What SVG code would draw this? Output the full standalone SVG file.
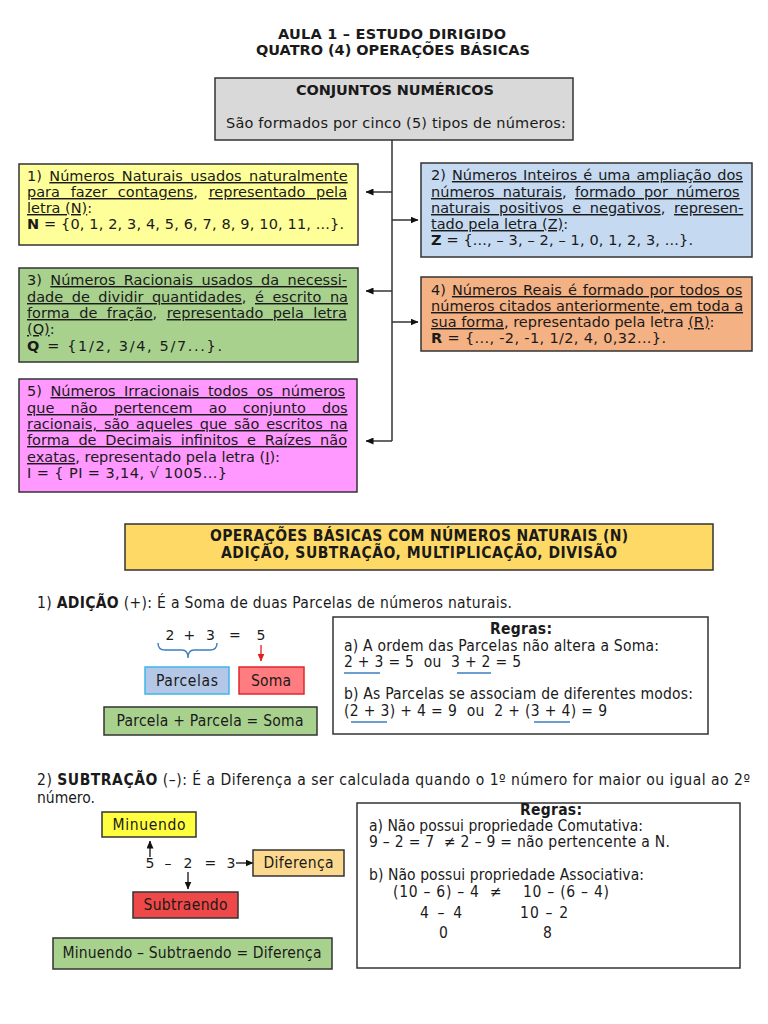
<svg xmlns="http://www.w3.org/2000/svg" width="768" height="1024" viewBox="0 0 768 1024">
<style>
.v{font-family:"DejaVu Sans",Verdana,sans-serif;font-size:14.5px;fill:#1a1a1a}
.t{font-family:"DejaVu Sans Condensed","Liberation Sans",sans-serif;font-size:15.5px;fill:#1a1a1a}
.b{font-weight:bold}
.u{text-decoration:underline}
.box{stroke:#333;stroke-width:1.5}
.c{text-anchor:middle}
.ln{stroke:#333;stroke-width:1.5;fill:none}
.lnk{stroke:#111;stroke-width:1.3;fill:none}
.bl{stroke:#3e7cc0;stroke-width:1.3}
</style>
<defs>
<marker id="ah" markerWidth="8" markerHeight="7" refX="7.5" refY="3.5" orient="auto" markerUnits="userSpaceOnUse">
<path d="M0,0 L8,3.5 L0,7 z" fill="#111"/>
</marker>
<marker id="ahr" markerWidth="8" markerHeight="7" refX="7.5" refY="3.5" orient="auto" markerUnits="userSpaceOnUse">
<path d="M0,0 L8,3.5 L0,7 z" fill="#e02020"/>
</marker>
</defs>
<rect width="768" height="1024" fill="#fff"/>

<g id="title">
<text class="v b c" x="392" y="39" textLength="228">AULA 1 – ESTUDO DIRIGIDO</text>
<text class="v b c" x="393" y="55" textLength="274">QUATRO (4) OPERAÇÕES BÁSICAS</text>
</g>

<g id="connectors">
<line class="ln" x1="392" y1="140" x2="392" y2="441"/>
<line class="ln" x1="392" y1="192" x2="366" y2="192" marker-end="url(#ah)"/>
<line class="ln" x1="392" y1="220" x2="418" y2="220" marker-end="url(#ah)"/>
<line class="ln" x1="392" y1="291" x2="366" y2="291" marker-end="url(#ah)"/>
<line class="ln" x1="392" y1="322" x2="418" y2="322" marker-end="url(#ah)"/>
<line class="ln" x1="392" y1="441" x2="366" y2="441" marker-end="url(#ah)"/>
<line x1="261" y1="645" x2="261" y2="661" stroke="#e02020" stroke-width="1.3" marker-end="url(#ahr)"/>
<line class="lnk" x1="150" y1="857" x2="150" y2="841" marker-end="url(#ah)"/>
<line class="lnk" x1="236" y1="863" x2="253" y2="863" marker-end="url(#ah)"/>
<line class="lnk" x1="188" y1="872" x2="188" y2="889" marker-end="url(#ah)"/>
</g>

<g id="conjuntos">
<rect class="box" x="215" y="78" width="358" height="62" fill="#d9d9d9"/>
<text class="v b c" x="395" y="95" textLength="198">CONJUNTOS NUMÉRICOS</text>
<text class="v" x="226" y="128" textLength="340">São formados por cinco (5) tipos de números:</text>
</g>

<g id="naturais">
<rect class="box" x="19" y="164" width="339" height="81" fill="#ffff99"/>
<text class="v" x="27" y="181" style="word-spacing:2.8px">1) <tspan class="u">Números Naturais usados naturalmente</tspan></text>
<text class="v" x="27" y="197" style="word-spacing:6.1px"><tspan class="u">para fazer contagens</tspan>, <tspan class="u">representado pela</tspan></text>
<text class="v" x="27" y="213"><tspan class="u">letra (N)</tspan>:</text>
<text class="v" x="27" y="229" textLength="317"><tspan class="b">N</tspan> = {0, 1, 2, 3, 4, 5, 6, 7, 8, 9, 10, 11, ...}.</text>
</g>

<g id="inteiros">
<rect class="box" x="421" y="163" width="331" height="94" fill="#c5d9f1"/>
<text class="v" x="431" y="180" style="word-spacing:1.4px">2) <tspan class="u">Números Inteiros é uma ampliação dos</tspan></text>
<text class="v" x="431" y="197" style="word-spacing:3.6px"><tspan class="u">números naturais</tspan>, <tspan class="u">formado por números</tspan></text>
<text class="v" x="431" y="213" style="word-spacing:4.1px"><tspan class="u">naturais positivos e negativos</tspan>, <tspan class="u">represen-</tspan></text>
<text class="v" x="431" y="229"><tspan class="u">tado pela letra (Z)</tspan>:</text>
<text class="v" x="431" y="245" textLength="262"><tspan class="b">Z</tspan> = {..., – 3, – 2, – 1, 0, 1, 2, 3, ...}.</text>
</g>

<g id="racionais">
<rect class="box" x="19" y="268" width="339" height="94" fill="#a9d18e"/>
<text class="v" x="27" y="285" style="word-spacing:3.8px">3) <tspan class="u">Números Racionais usados da necessi-</tspan></text>
<text class="v" x="27" y="302" style="word-spacing:3.9px"><tspan class="u">dade de dividir quantidades</tspan>, <tspan class="u">é escrito na</tspan></text>
<text class="v" x="27" y="318" style="word-spacing:4.9px"><tspan class="u">forma de fração</tspan>, <tspan class="u">representado pela letra</tspan></text>
<text class="v" x="27" y="334"><tspan class="u">(Q)</tspan>:</text>
<text class="v" x="27" y="351" textLength="195"><tspan class="b">Q</tspan> = {1/2, 3/4, 5/7...}.</text>
</g>

<g id="reais">
<rect class="box" x="421" y="277" width="331" height="74" fill="#f4b183"/>
<text class="v" x="431" y="295" style="word-spacing:1.4px">4) <tspan class="u">Números Reais é formado por todos os</tspan></text>
<text class="v" x="431" y="311"><tspan class="u">números citados anteriormente, em toda a</tspan></text>
<text class="v" x="431" y="327"><tspan class="u">sua forma</tspan>, representado pela letra <tspan class="u">(R)</tspan>:</text>
<text class="v" x="431" y="343" textLength="235"><tspan class="b">R</tspan> = {..., -2, -1, 1/2, 4, 0,32...}.</text>
</g>

<g id="irracionais">
<rect class="box" x="19" y="379" width="338" height="113" fill="#ff99ff"/>
<text class="v" x="27" y="396" style="word-spacing:3.9px">5) <tspan class="u">Números Irracionais todos os números</tspan></text>
<text class="v" x="27" y="413" style="word-spacing:11.6px"><tspan class="u">que não pertencem ao conjunto dos</tspan></text>
<text class="v" x="27" y="429" style="word-spacing:2.3px"><tspan class="u">racionais, são aqueles que são escritos na</tspan></text>
<text class="v" x="27" y="445" style="word-spacing:4.1px"><tspan class="u">forma de Decimais infinitos e Raízes não</tspan></text>
<text class="v" x="27" y="462"><tspan class="u">exatas</tspan>, representado pela letra (<tspan class="u">I</tspan>):</text>
<text class="v" x="27" y="478" textLength="200">I = { PI = 3,14, √ 1005...}</text>
</g>

<g id="operacoes">
<rect class="box" x="125" y="524" width="588" height="46" fill="#ffd966"/>
<text class="t b c" x="419" y="541" textLength="418">OPERAÇÕES BÁSICAS COM NÚMEROS NATURAIS (N)</text>
<text class="t b c" x="419" y="558" textLength="396">ADIÇÃO, SUBTRAÇÃO, MULTIPLICAÇÃO, DIVISÃO</text>
</g>

<g id="adicao-titulo">
<text class="t" x="37" y="608" textLength="475">1) <tspan class="b">ADIÇÃO</tspan> (+): É a Soma de duas Parcelas de números naturais.</text>
</g>

<g id="adicao-conta">
<text class="v" y="640" style="font-size:14px"><tspan x="165.5">2</tspan><tspan x="183.5">+</tspan><tspan x="206">3</tspan><tspan x="229">=</tspan><tspan x="256.5">5</tspan></text>
<path d="M158,643 Q158,650 165,650 L182,650 Q188,650 188,658 Q188,650 194,650 L210,650 Q217,650 217,643" fill="none" stroke="#3e7cc0" stroke-width="1.4"/>
</g>

<g id="parcelas">
<rect x="145" y="667" width="84" height="27" fill="#b4c7e7" stroke="#3cb6ea" stroke-width="1.5"/>
<text class="t c" x="187" y="686" textLength="62">Parcelas</text>
</g>
<g id="soma">
<rect x="239" y="667" width="65" height="27" fill="#ff7c80" stroke="#e0282e" stroke-width="1.5"/>
<text class="t c" x="271" y="686" textLength="40">Soma</text>
</g>
<g id="formula-adicao">
<rect class="box" x="104" y="707" width="213" height="28" fill="#a9d18e"/>
<text class="t c" x="210" y="726" textLength="187">Parcela + Parcela = Soma</text>
</g>

<g id="regras-adicao">
<rect class="box" x="333" y="617" width="375" height="117" fill="#fff"/>
<text class="t b c" x="521" y="634" textLength="62">Regras:</text>
<text class="t" x="344" y="651" textLength="315">a) A ordem das Parcelas não altera a Soma:</text>
<text class="t" x="344" y="667" textLength="177" xml:space="preserve">2 + 3 = 5  ou  3 + 2 = 5</text>
<line class="bl" x1="344" y1="673" x2="380" y2="673"/>
<line class="bl" x1="457" y1="673" x2="491" y2="673"/>
<text class="t" x="344" y="699" textLength="349">b) As Parcelas se associam de diferentes modos:</text>
<text class="t" x="344" y="716" textLength="263" xml:space="preserve">(2 + 3) + 4 = 9  ou  2 + (3 + 4) = 9</text>
<line class="bl" x1="351" y1="722" x2="387" y2="722"/>
<line class="bl" x1="534" y1="722" x2="570" y2="722"/>
</g>

<g id="subtracao-titulo">
<text class="t" x="37" y="785" textLength="713">2) <tspan class="b">SUBTRAÇÃO</tspan> (–): É a Diferença a ser calculada quando o 1º número for maior ou igual ao 2º</text>
<text class="t" x="37" y="803">número.</text>
</g>

<g id="minuendo">
<rect class="box" x="102" y="812" width="94" height="25" fill="#ffff40"/>
<text class="t c" x="149" y="830" textLength="73">Minuendo</text>
</g>
<g id="subtracao-conta">
<text class="v" y="868" style="font-size:14px"><tspan x="145.5">5</tspan><tspan x="164.5">–</tspan><tspan x="183.5">2</tspan><tspan x="204.5">=</tspan><tspan x="226.5">3</tspan></text>
</g>
<g id="diferenca">
<rect class="box" x="253" y="850" width="91" height="26" fill="#fcd98f"/>
<text class="t c" x="298.5" y="868" textLength="70">Diferença</text>
</g>
<g id="subtraendo">
<rect class="box" x="133" y="892" width="105" height="26" fill="#ef4848"/>
<text class="t c" x="185.5" y="910" textLength="84">Subtraendo</text>
</g>
<g id="formula-subtracao">
<rect class="box" x="53" y="938" width="279" height="31" fill="#a9d18e"/>
<text class="t c" x="192" y="958" textLength="259">Minuendo – Subtraendo = Diferença</text>
</g>

<g id="regras-subtracao">
<rect class="box" x="357" y="803" width="383" height="165" fill="#fff"/>
<text class="t b c" x="551" y="815" textLength="62">Regras:</text>
<text class="t" x="369" y="831" textLength="274">a) Não possui propriedade Comutativa:</text>
<text class="t" x="369" y="847" textLength="301" xml:space="preserve">9 – 2 = 7  ≠ 2 – 9 = não pertencente a N.</text>
<text class="t" x="369" y="880" textLength="275">b) Não possui propriedade Associativa:</text>
<text class="t" x="393" y="897" textLength="216" xml:space="preserve">(10 – 6) – 4  ≠    10 – (6 – 4)</text>
<text class="t" x="420" y="918" textLength="42">4 – 4</text>
<text class="t" x="520" y="918" textLength="48">10 – 2</text>
<text class="t" x="439" y="938">0</text>
<text class="t" x="543" y="938">8</text>
</g>
</svg>
